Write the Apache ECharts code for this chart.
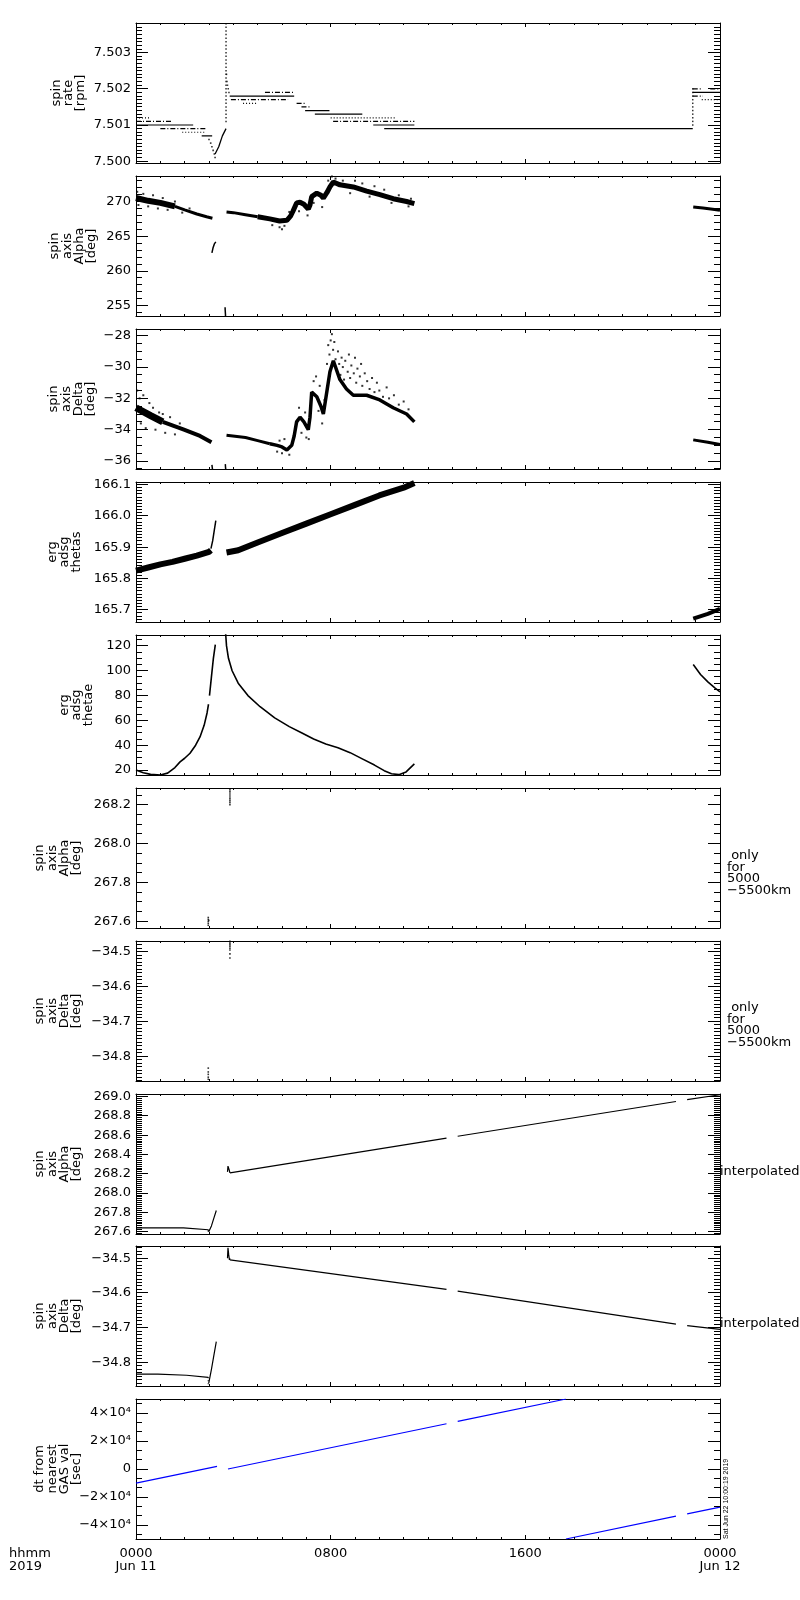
<!DOCTYPE html>
<html><head><meta charset="utf-8">
<script src="https://cdn.jsdelivr.net/npm/echarts@6/dist/echarts.min.js"></script>
<style>html,body{margin:0;padding:0;background:#fff}#c{width:800px;height:1600px}</style>
</head><body><div id="c"></div><script>
// ---------------- DATA ----------------
// time axis (hours since 2019-06-11 00:00)
const hourTicks = [0, 8, 16, 24];
const hourLabels = ['0000\nJun 11', '0800', '1600', '0000\nJun 12'];

// Panel titles
const panelTitles = ['spin\nrate\n[rpm]', 'spin\naxis\nAlpha\n[deg]', 'spin\naxis\nDelta\n[deg]', 'erg\nadsg\nthetas',
  'erg\nadsg\nthetae', 'spin\naxis\nAlpha\n[deg]', 'spin\naxis\nDelta\n[deg]', 'spin\naxis\nAlpha\n[deg]',
  'spin\naxis\nDelta\n[deg]', 'dt from\nnearest\nGAS val\n[sec]'];

// y ranges
const yRanges = [[7.49995, 7.50382], [253.53, 273.67], [-36.51, -27.57], [165.661, 166.108], [16, 128.8],
  [267.566, 268.286], [-34.871, -34.469], [267.576, 269.028], [-34.868, -34.465], [-50000, 50000]];

// major tick values and labels
const p1Ticks = [7.500, 7.501, 7.502, 7.503], p1Labels = ['7.500', '7.501', '7.502', '7.503'];
const p2Ticks = [255, 260, 265, 270], p2Labels = ['255', '260', '265', '270'];
const p3Ticks = [-36, -34, -32, -30, -28], p3Labels = ['−36', '−34', '−32', '−30', '−28'];
const p4Ticks = [165.7, 165.8, 165.9, 166.0, 166.1], p4Labels = ['165.7', '165.8', '165.9', '166.0', '166.1'];
const p5Ticks = [20, 40, 60, 80, 100, 120], p5Labels = ['20', '40', '60', '80', '100', '120'];
const p6Ticks = [267.6, 267.8, 268.0, 268.2], p6Labels = ['267.6', '267.8', '268.0', '268.2'];
const p7Ticks = [-34.8, -34.7, -34.6, -34.5], p7Labels = ['−34.8', '−34.7', '−34.6', '−34.5'];
const p8Ticks = [267.6, 267.8, 268.0, 268.2, 268.4, 268.6, 268.8, 269.0], p8Labels = ['267.6', '267.8', '268.0', '268.2', '268.4', '268.6', '268.8', '269.0'];
const p9Ticks = [-34.8, -34.7, -34.6, -34.5], p9Labels = ['−34.8', '−34.7', '−34.6', '−34.5'];
const p10Ticks = [-40000, -20000, 0, 20000, 40000], p10Labels = ['−4×10⁴', '−2×10⁴', '0', '2×10⁴', '4×10⁴'];
const minorSteps = [0.0001, 1, 0.5, 0.01, 5, 0.05, 0.01, 0.02, 0.01, 20000 / 3];

// Panel 1: spin rate, horizontal quantised levels [hStart, hEnd, rpm]
const spinRateSolid = [[0.0, 2.35, 7.5010], [2.7, 3.13, 7.5007], [3.85, 6.5, 7.5018], [6.95, 7.95, 7.5014], [7.35, 9.3, 7.5013], [9.75, 11.44, 7.5010], [10.2, 22.88, 7.5009], [22.88, 24, 7.5019]];
const spinRateDashDot = [[0.0, 1.5, 7.5011], [1.0, 2.9, 7.5009], [3.9, 6.25, 7.5017], [5.3, 6.5, 7.5019], [6.6, 6.95, 7.5016], [6.8, 7.2, 7.5015], [8.1, 11.44, 7.5011], [22.88, 23.3, 7.5018], [22.88, 23.25, 7.5020], [23.6, 24, 7.5020]];
const spinRateDotted = [[0.0, 0.55, 7.5012], [1.9, 2.85, 7.5008], [4.4, 5.0, 7.5016], [8.0, 10.7, 7.5012], [23.25, 24, 7.5017]];
const spinRateDip = [[3.0, 7.5006], [3.07, 7.5005], [3.12, 7.5004], [3.17, 7.5003], [3.22, 7.5002], [3.25, 7.5001]];
const spinRateRecovery = [[3.25, 7.5002], [3.4, 7.5004], [3.55, 7.5007], [3.7, 7.5009]];
const spinRateSpike = [[3.7, 7.5038], [3.7, 7.5037], [3.7, 7.5036], [3.7, 7.5035], [3.7, 7.5034], [3.7, 7.5033], [3.7, 7.5032], [3.7, 7.5031], [3.7, 7.5030], [3.7, 7.5029], [3.7, 7.5028], [3.7, 7.5027], [3.7, 7.5026], [3.7, 7.5025], [3.7, 7.5024], [3.7, 7.5023], [3.7, 7.5022], [3.7, 7.5021], [3.7, 7.5020], [3.7, 7.5019], [3.7, 7.5018], [3.7, 7.5017], [3.7, 7.5016], [3.7, 7.5015], [3.7, 7.5014], [3.7, 7.5013], [3.7, 7.5012], [3.7, 7.5011], [3.72, 7.5024], [3.74, 7.5022], [3.76, 7.5021], [3.79, 7.5020], [3.82, 7.5019]];
const spinRateJump = [[22.88, 7.5010], [22.88, 7.5011], [22.88, 7.5012], [22.88, 7.5013], [22.88, 7.5014], [22.88, 7.5015], [22.88, 7.5016], [22.88, 7.5017], [22.88, 7.5018], [22.88, 7.5019], [22.88, 7.5020]];

// Panel 2: spin axis Alpha
const alphaBandA1 = [[0, 270.5], [0.5, 270.1], [1.0, 269.8], [1.6, 269.3]];
const alphaBandA2 = [[1.6, 269.3], [2.0, 268.8], [2.5, 268.2], [2.9, 267.8], [3.14, 267.6]];
const alphaArc = [[3.12, 262.6], [3.17, 263.4], [3.22, 263.9], [3.28, 264.2]];
const alphaTail = [[3.66, 254.8], [3.68, 253.5]];
const alphaBandB1 = [[3.72, 268.5], [4.0, 268.4], [4.5, 268.1], [5.0, 267.8]];
const alphaBandB2 = [[5.0, 267.8], [5.5, 267.5], [5.9, 267.2], [6.2, 267.3], [6.35, 267.9], [6.45, 268.6], [6.6, 269.8], [6.74, 269.9], [6.9, 269.6], [7.08, 268.9], [7.15, 269.5], [7.22, 270.7], [7.43, 271.2], [7.6, 270.9], [7.70, 270.5], [7.85, 271.3], [7.97, 272.1], [8.11, 272.8], [8.38, 272.4], [8.93, 272.1], [9.48, 271.5], [10.02, 271.0], [10.57, 270.4], [11.12, 270.0], [11.44, 269.7]];
const alphaBandC = [[22.9, 269.2], [23.3, 269.05], [23.7, 268.9], [24, 268.75]];
const alphaSpeckle = [[0.05, 271.4], [0.1, 269.5], [0.3, 271.1], [0.5, 269.3], [0.7, 270.9], [0.9, 269.0], [1.1, 270.5], [1.3, 268.8], [1.6, 270.0], [1.9, 268.4], [2.2, 269.0], [5.6, 266.6], [5.9, 266.3], [6.0, 266.0], [6.1, 266.5], [6.3, 268.5], [6.7, 268.6], [7.05, 268.0], [7.3, 269.8], [7.65, 269.2], [7.9, 273.0], [8.05, 273.6], [8.2, 273.3], [8.5, 273.0], [8.8, 271.2], [9.0, 273.0], [9.3, 272.6], [9.6, 270.7], [9.8, 272.2], [10.2, 271.7], [10.5, 269.8], [10.8, 270.9], [11.2, 269.3], [11.3, 270.4]];

// Panel 3: spin axis Delta
const deltaBandA1 = [[0, -32.6], [0.6, -33.1], [1.1, -33.5]];
const deltaBandA2 = [[1.1, -33.5], [1.97, -34.0], [2.63, -34.4], [3.1, -34.8]];
const deltaBottomMarks1 = [[3.12, -36.25], [3.15, -36.6]];
const deltaBottomMarks2 = [[3.67, -36.2], [3.69, -36.6]];
const deltaBandB1 = [[3.72, -34.35], [4.5, -34.5], [5.0, -34.7], [5.5, -34.9]];
const deltaBandB2 = [[5.5, -34.9], [5.8, -35.0], [6.0, -35.1], [6.2, -35.3], [6.4, -35.0], [6.5, -34.4], [6.6, -33.5], [6.74, -33.2], [6.9, -33.5], [7.08, -34.0], [7.15, -33.2], [7.22, -31.6], [7.43, -31.9], [7.6, -32.5], [7.70, -33.0], [7.85, -31.5], [7.97, -30.3], [8.11, -29.6], [8.38, -30.8], [8.65, -31.4], [8.93, -31.8], [9.48, -31.8], [10.02, -32.1], [10.57, -32.6], [11.12, -33.0], [11.44, -33.5]];
const deltaBandC = [[22.9, -34.65], [23.5, -34.8], [24, -34.95]];
const deltaSpeckle = [[0.05, -31.5], [0.15, -32.0], [0.2, -33.6], [0.3, -31.8], [0.4, -33.9], [0.55, -32.3], [0.7, -32.6], [0.8, -34.0], [0.95, -32.9], [1.1, -33.0], [1.2, -34.2], [1.4, -33.2], [1.6, -34.3], [1.8, -33.6],
  [5.8, -35.4], [5.9, -34.7], [6.0, -35.5], [6.1, -34.6], [6.3, -35.6], [6.7, -32.6], [6.8, -34.2], [6.95, -32.9], [7.0, -34.5], [7.1, -34.6], [7.3, -30.9], [7.4, -30.6], [7.5, -32.8], [7.55, -31.2], [7.65, -33.6], [7.75, -32.1],
  [7.85, -29.8], [7.9, -28.6], [7.95, -29.2], [8.0, -28.3], [8.05, -27.9], [8.1, -28.9], [8.15, -28.4], [8.2, -29.5], [8.25, -30.2], [8.3, -29.0], [8.35, -29.8], [8.4, -30.5], [8.45, -29.4], [8.5, -30.0], [8.55, -30.8], [8.6, -29.6], [8.7, -30.3], [8.75, -29.2], [8.8, -30.7], [8.85, -29.9], [8.95, -30.4], [9.0, -29.4], [9.05, -31.0], [9.1, -30.1], [9.2, -30.6], [9.25, -29.8], [9.3, -31.2], [9.4, -30.4], [9.5, -30.9], [9.6, -31.4], [9.7, -30.7], [9.8, -31.6], [9.9, -31.0], [10.0, -31.5], [10.15, -31.9], [10.3, -31.3], [10.4, -32.0], [10.6, -31.8], [10.8, -32.4], [11.0, -32.2], [11.2, -32.7]];

// Panel 4: erg adsg thetas
const thetasBandA = [[0, 165.825], [0.5, 165.835], [1, 165.845], [1.5, 165.853], [2, 165.863], [2.5, 165.873], [3.0, 165.885], [3.08, 165.89]];
const thetasStep = [[3.08, 165.895], [3.15, 165.92], [3.22, 165.955], [3.28, 165.985]];
const thetasBandB = [[3.72, 165.883], [4.2, 165.89], [5, 165.915], [6, 165.945], [7, 165.975], [8, 166.005], [9, 166.035], [10, 166.065], [11, 166.09], [11.44, 166.105]];
const thetasBandC = [[22.9, 165.672], [23.5, 165.687], [24, 165.703]];

// Panel 5: erg adsg thetae
const thetaeA1 = [[0, 20], [0.3, 17.8], [0.6, 16.5], [1.0, 16.0], [1.3, 17.5], [1.6, 22], [1.81, 26.6], [2.0, 29.5], [2.22, 33.5], [2.45, 40], [2.63, 46.7], [2.8, 56], [2.92, 66], [2.98, 73]];
const thetaeA2 = [[3.02, 80], [3.1, 95], [3.18, 110], [3.26, 121]];
const thetaeB = [[3.68, 131], [3.72, 120], [3.8, 110], [3.95, 100], [4.2, 90], [4.6, 80], [5.1, 71], [5.7, 62], [6.3, 55], [6.8, 50], [7.3, 45], [7.8, 41], [8.3, 38], [8.8, 34], [9.3, 29], [9.8, 24], [10.2, 19.5], [10.5, 17], [10.8, 16.3], [11.1, 18.5], [11.44, 25]];
const thetaeC = [[22.9, 105], [23.2, 97], [23.5, 91], [23.8, 86], [24, 83]];

// Panels 6/7: values only for 5000-5500 km
const alphaOnlyPts = [[2.97, 267.62], [2.97, 267.61], [2.97, 267.60], [2.97, 267.59], [2.97, 267.58], [2.99, 267.605], [3.86, 268.20], [3.86, 268.21], [3.86, 268.22], [3.86, 268.23], [3.86, 268.24], [3.86, 268.25], [3.86, 268.26], [3.86, 268.27], [3.86, 268.28], [3.86, 268.29]];
const deltaOnlyPts = [[3.86, -34.47], [3.86, -34.475], [3.86, -34.48], [3.86, -34.485], [3.86, -34.49], [3.86, -34.495], [3.86, -34.506], [3.86, -34.518], [2.97, -34.834], [2.97, -34.845], [2.97, -34.852], [2.97, -34.86], [2.97, -34.866]];

// Panel 8: Alpha interpolated
const alphaInterpA = [[0, 267.64], [1.95, 267.64], [1.95, 267.625], [2.97, 267.62], [2.97, 267.6]];
const alphaInterpRise = [[2.99, 267.6], [3.1, 267.66], [3.2, 267.74], [3.3, 267.82]];
const alphaInterpWiggle = [[3.76, 268.22], [3.78, 268.28], [3.8, 268.3], [3.83, 268.24], [3.86, 268.21]];
const alphaInterpB = [[3.86, 268.21], [12.76, 268.57]];
const alphaInterpC = [[13.22, 268.59], [22.19, 268.95]];
const alphaInterpD = [[22.65, 268.97], [24, 269.02]];

// Panel 9: Delta interpolated
const deltaInterpA = [[0, -34.834], [0.9, -34.834], [0.9, -34.837], [2.08, -34.837], [2.08, -34.84], [2.97, -34.843]];
const deltaInterpDrop = [[2.97, -34.843], [2.97, -34.868]];
const deltaInterpRise = [[2.99, -34.86], [3.1, -34.82], [3.2, -34.78], [3.3, -34.74]];
const deltaInterpWiggle = [[3.76, -34.5], [3.78, -34.47], [3.81, -34.49], [3.84, -34.505], [3.86, -34.5]];
const deltaInterpB = [[3.86, -34.505], [12.76, -34.59]];
const deltaInterpC = [[13.22, -34.595], [22.19, -34.69]];
const deltaInterpD = [[22.65, -34.694], [24, -34.705]];

// Panel 10: dt from nearest GAS value [sec]
const dtSeg1 = [[0, -10100], [3.33, 1900]];
const dtSeg2 = [[3.78, 0], [12.76, 32300]];
const dtSeg3 = [[13.22, 34000], [17.67, 50000]];
const dtSeg4 = [[17.67, -50000], [22.19, -33700]];
const dtSeg5 = [[22.65, -32100], [24, -27200]];

// ---------------- LAYOUT / STYLE ----------------
const FONT = 'DejaVu Sans';
const PANEL_TOPS = [23, 176, 329, 482, 635, 788, 941, 1094, 1246, 1399];
const PANEL_H = 140;
const LEFT = 136, RIGHT = 80;
const TITLE_X = [68.5, 73.4, 72.4, 64.5, 76.5, 58.4, 58.4, 58.4, 58.4, 58.4];
const black = '#000';
const DOT = [1, 2], DASHDOT = [5, 2, 1, 2];
const Y_MAJOR_LEN = 12, Y_MINOR_LEN = 6, X_MAJOR_LEN = 4, X_MINOR_LEN = 2;

const allTicks = [p1Ticks, p2Ticks, p3Ticks, p4Ticks, p5Ticks, p6Ticks, p7Ticks, p8Ticks, p9Ticks, p10Ticks];
const allLabels = [p1Labels, p2Labels, p3Labels, p4Labels, p5Labels, p6Labels, p7Labels, p8Labels, p9Labels, p10Labels];

function minorTicks(i) {
  const [lo, hi] = yRanges[i], st = minorSteps[i];
  const out = [];
  for (let k = Math.ceil(lo / st - 1e-9); k <= Math.floor(hi / st + 1e-9); k++) out.push(+(k * st).toFixed(8));
  return out;
}

const grids = [], xAxes = [], yAxes = [], series = [];
for (let i = 0; i < 10; i++) {
  grids.push({ left: LEFT, right: RIGHT, top: PANEL_TOPS[i], height: PANEL_H, show: false });
  ['bottom', 'top'].forEach(pos => {
    xAxes.push({
      gridIndex: i, type: 'value', min: 0, max: 24, interval: 8, position: pos,
      axisLine: { onZero: false, lineStyle: { color: black } },
      axisTick: { show: false },
      axisLabel: {
        show: pos === 'bottom' && i === 9, margin: 8, color: black, fontFamily: FONT, fontSize: 13, lineHeight: 13,
        formatter: v => { const k = hourTicks.indexOf(v); return k >= 0 ? hourLabels[k] : ''; }
      },
      splitLine: { show: false }
    });
  });
  const ticks = allTicks[i], labels = allLabels[i];
  const fmt = v => { for (let k = 0; k < ticks.length; k++) if (Math.abs(ticks[k] - v) < 1e-7 * Math.max(1, Math.abs(v))) return labels[k]; return ''; };
  ['left', 'right'].forEach(pos => {
    yAxes.push({
      gridIndex: i, type: 'value', min: yRanges[i][0], max: yRanges[i][1], position: pos,
      axisLine: { show: true, onZero: false, lineStyle: { color: black } },
      axisTick: { show: false },
      axisLabel: { show: pos === 'left', customValues: ticks, formatter: fmt, margin: 5, color: black, fontFamily: FONT, fontSize: 13 },
      splitLine: { show: false }
    });
  });
}

function line(p, data, width, dash, color) {
  series.push({
    type: 'line', xAxisIndex: 2 * p, yAxisIndex: 2 * p, data, showSymbol: false,
    lineStyle: { color: color || black, width, type: dash || 'solid' }, silent: true, z: 3
  });
}
function dots(p, data, size) {
  series.push({
    type: 'scatter', xAxisIndex: 2 * p, yAxisIndex: 2 * p, data, symbol: 'rect', symbolSize: size,
    itemStyle: { color: black }, silent: true, z: 3
  });
}
const segData = s => [[s[0], s[2]], [s[1], s[2]]];

// Panel 1
spinRateSolid.forEach(s => line(0, segData(s), 1.2));
spinRateDashDot.forEach(s => line(0, segData(s), 1.2, DASHDOT));
spinRateDotted.forEach(s => line(0, segData(s), 1.2, DOT));
dots(0, spinRateDip, 1.6);
line(0, spinRateRecovery, 1.3);
dots(0, spinRateSpike, 1.5);
dots(0, spinRateJump, 1.5);
// Panel 2
line(1, alphaBandA1, 6); line(1, alphaBandA2, 3); line(1, alphaArc, 1.5); line(1, alphaTail, 1.5);
line(1, alphaBandB1, 3); line(1, alphaBandB2, 5); line(1, alphaBandC, 3); dots(1, alphaSpeckle, 2);
// Panel 3
line(2, deltaBandA1, 7); line(2, deltaBandA2, 4); line(2, deltaBottomMarks1, 1.5); line(2, deltaBottomMarks2, 1.5);
line(2, deltaBandB1, 3); line(2, deltaBandB2, 3.5); line(2, deltaBandC, 3); dots(2, deltaSpeckle, 2);
// Panel 4
line(3, thetasBandA, 6); line(3, thetasStep, 1.5); line(3, thetasBandB, 6); line(3, thetasBandC, 4);
// Panel 5
line(4, thetaeA1, 1.6); line(4, thetaeA2, 1.6); line(4, thetaeB, 1.6); line(4, thetaeC, 1.6);
// Panels 6, 7
dots(5, alphaOnlyPts, 1.6); dots(6, deltaOnlyPts, 1.6);
// Panel 8
line(7, alphaInterpA, 1.2); line(7, alphaInterpRise, 1.2); line(7, alphaInterpWiggle, 1.2);
line(7, alphaInterpB, 1.2); line(7, alphaInterpC, 1.2); line(7, alphaInterpD, 1.2);
// Panel 9
line(8, deltaInterpA, 1.2); line(8, deltaInterpDrop, 1.2, DOT); line(8, deltaInterpRise, 1.2); line(8, deltaInterpWiggle, 1.2);
line(8, deltaInterpB, 1.2); line(8, deltaInterpC, 1.2); line(8, deltaInterpD, 1.2);
// Panel 10
[dtSeg1, dtSeg2, dtSeg3, dtSeg4, dtSeg5].forEach(s => line(9, s, 1.2, null, '#0000ff'));

// text decorations
const graphics = [];
function txt(x, y, text, opts) {
  graphics.push(Object.assign({
    type: 'text', x, y, silent: true,
    style: Object.assign({ text, fill: black, font: '13px "' + FONT + '"', lineHeight: 12.3, align: 'left', verticalAlign: 'middle' }, opts && opts.style || {})
  }, opts && opts.rotation ? { rotation: opts.rotation } : {}));
}
for (let i = 0; i < 10; i++) {
  txt(TITLE_X[i], PANEL_TOPS[i] + PANEL_H / 2, panelTitles[i], { rotation: Math.PI / 2, style: { align: 'center', verticalAlign: 'middle' } });
}
txt(727, PANEL_TOPS[5] + 85, ' only\nfor\n5000\n−5500km', { style: { lineHeight: 11.7 } });
txt(727, PANEL_TOPS[6] + 84, ' only\nfor\n5000\n−5500km', { style: { lineHeight: 11.7 } });
txt(720, PANEL_TOPS[7] + 78, 'interpolated');
txt(720, PANEL_TOPS[8] + 78, 'interpolated');
txt(9, 1547, 'hhmm\n2019', { style: { verticalAlign: 'top', lineHeight: 13 } });
txt(726, 1539, 'Sat Jun 22 10:00:19 2019', { rotation: Math.PI / 2, style: { font: '7px "Liberation Sans"', align: 'left', verticalAlign: 'middle' } });

const chart = echarts.init(document.getElementById('c'));
chart.setOption({ animation: false, grid: grids, xAxis: xAxes, yAxis: yAxes, series, graphic: graphics });

// IDL-style inward ticks on all four frame sides, as 1-px filled bars placed through each panel's own scales
const tickEls = [];
function bar(x, y, w, h) {
  tickEls.push({ type: 'rect', silent: true, z: 100, shape: { x, y, width: w, height: h }, style: { fill: black, stroke: null } });
}
for (let i = 0; i < 10; i++) {
  const finder = { xAxisIndex: 2 * i, yAxisIndex: 2 * i };
  const pLo = chart.convertToPixel(finder, [0, yRanges[i][0]]);
  const pHi = chart.convertToPixel(finder, [24, yRanges[i][1]]);
  const xL = Math.round(pLo[0]), xR = Math.round(pHi[0]), yB = Math.round(pLo[1]), yT = Math.round(pHi[1]);
  const yTick = (v, len) => {
    const y = Math.floor(chart.convertToPixel(finder, [0, v])[1]);
    bar(xL, y, len, 1); bar(xR - len, y, len, 1);
  };
  allTicks[i].forEach(v => yTick(v, Y_MAJOR_LEN));
  minorTicks(i).forEach(v => yTick(v, Y_MINOR_LEN));
  for (let h = 0; h <= 24; h++) {
    const x = Math.floor(chart.convertToPixel(finder, [h, yRanges[i][0]])[0]);
    const len = h % 8 === 0 ? X_MAJOR_LEN : X_MINOR_LEN;
    bar(x, yB - len, 1, len); bar(x, yT, 1, len);
  }
}
chart.setOption({ graphic: graphics.concat(tickEls) });
</script></body></html>
